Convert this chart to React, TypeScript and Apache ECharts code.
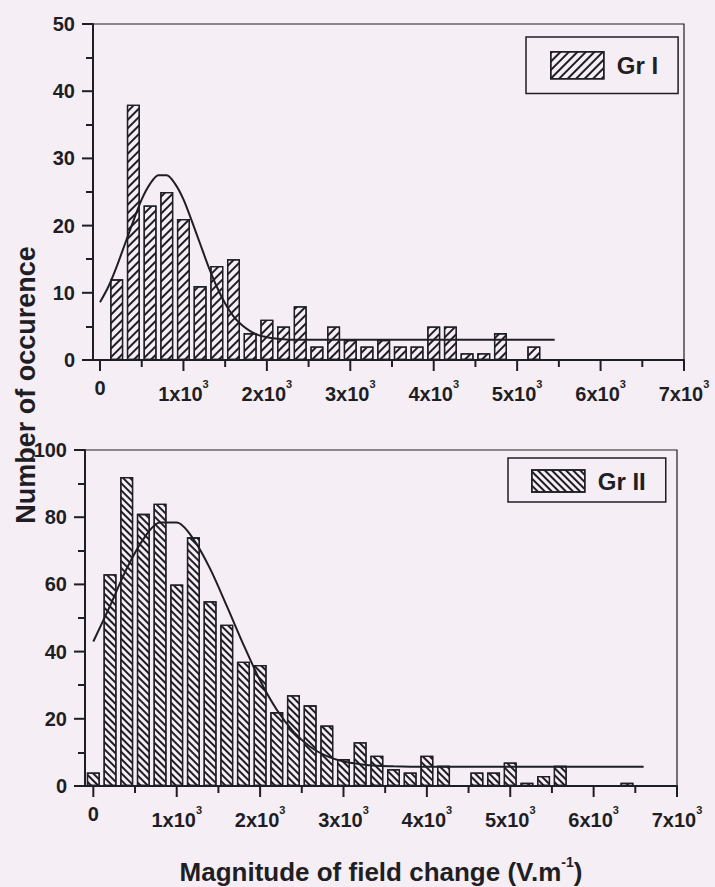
import React, { useEffect, useRef } from 'react';
import * as echarts from 'echarts';

const BG = '#f6eef5';
const INK = '#1f1e24';
const FONT = "'Liberation Sans', Arial, sans-serif";

// Group I histogram (bin centres in V/m, counts)
const binsI = [200, 400, 600, 800, 1000, 1200, 1400, 1600, 1800, 2000, 2200, 2400, 2600, 2800, 3000, 3200, 3400, 3600, 3800, 4000, 4200, 4400, 4600, 4800, 5000, 5200];
const countsI = [12, 38, 23, 25, 21, 11, 14, 15, 4, 6, 5, 8, 2, 5, 3, 2, 3, 2, 2, 5, 5, 1, 1, 4, 0, 2];
// Group I fitted curve
const fitXI = [0, 100, 200, 300, 400, 500, 600, 700, 800, 900, 1000, 1100, 1200, 1300, 1400, 1500, 1600, 1700, 1800, 1900, 2000, 2100, 2200, 2300, 2400, 5450];
const fitYI = [8.6, 10.9, 13.9, 17.3, 20.7, 23.9, 26.2, 27.5, 27.5, 26.2, 23.9, 20.7, 17.3, 13.9, 10.9, 8.4, 6.5, 5.2, 4.3, 3.7, 3.4, 3.2, 3.1, 3.0, 3.0, 3.0];

// Group II histogram
const binsII = [0, 200, 400, 600, 800, 1000, 1200, 1400, 1600, 1800, 2000, 2200, 2400, 2600, 2800, 3000, 3200, 3400, 3600, 3800, 4000, 4200, 4400, 4600, 4800, 5000, 5200, 5400, 5600, 5800, 6000, 6200, 6400];
const countsII = [4, 63, 92, 81, 84, 60, 74, 55, 48, 37, 36, 22, 27, 24, 18, 8, 13, 9, 5, 4, 9, 6, 0, 4, 4, 7, 1, 3, 6, 0, 0, 0, 1];
// Group II fitted curve
const fitXII = [0, 200, 400, 600, 800, 1000, 1200, 1400, 1600, 1800, 2000, 2200, 2400, 2600, 2800, 3000, 3200, 3400, 3600, 3800, 4000, 6600];
const fitYII = [43, 53.6, 64.7, 73.5, 78.4, 78.4, 73.5, 64.7, 53.6, 42.1, 31.4, 22.7, 16.2, 11.7, 8.9, 7.3, 6.5, 6.0, 5.85, 5.75, 5.7, 5.7];

const xMajorTicks = [0, 1000, 2000, 3000, 4000, 5000, 6000, 7000];
const xMinorTicks = [500, 1500, 2500, 3500, 4500, 5500, 6500];
const yMajorTicksI = [0, 10, 20, 30, 40, 50];
const yMajorTicksII = [0, 20, 40, 60, 80, 100];

const legendI = 'Gr I';
const legendII = 'Gr II';
const yTitle = 'Number of occurence';
const xTitle = 'Magnitude of field change (V.m';

const MAJOR_LEN = 11;
const MINOR_LEN = 7;
const X_MIN_I = -84;
const X_MIN_II = -100;

function pairs(xs: number[], ys: number[], skipZero: boolean) {
  const out: number[][] = [];
  xs.forEach((x, i) => {
    if (!skipZero || ys[i] > 0) out.push([x, ys[i]]);
  });
  return out;
}

function xLabel(v: number) {
  if (v === 0) return '{z|0}';
  return `{m|${v / 1000}x10}{s|3}`;
}

const xRich = {
  z: { fontSize: 20, fontWeight: 'bold', fontFamily: FONT, color: INK, lineHeight: 22, verticalAlign: 'top' },
  m: { fontSize: 20, fontWeight: 'bold', fontFamily: FONT, color: INK, lineHeight: 26, verticalAlign: 'bottom' },
  s: { fontSize: 11, fontWeight: 'bold', fontFamily: FONT, color: INK, lineHeight: 12, verticalAlign: 'top' },
};

function mainXAxis(gridIndex: number, min: number) {
  return {
    type: 'value',
    gridIndex,
    min,
    max: 7000,
    position: 'bottom',
    axisLine: { show: true, onZero: false, lineStyle: { color: INK, width: 2 } },
    axisTick: { show: false },
    axisLabel: { show: true, customValues: xMajorTicks, formatter: xLabel, margin: 18, rich: xRich, color: INK },
    splitLine: { show: false },
  };
}

function yAxis(gridIndex: number, max: number, interval: number) {
  return {
    type: 'value',
    gridIndex,
    min: 0,
    max,
    interval,
    position: 'left',
    axisLine: { show: true, onZero: false, lineStyle: { color: INK, width: 2 } },
    axisTick: { show: false },
    minorTick: { show: true, splitNumber: 2, length: MINOR_LEN, lineStyle: { color: INK, width: 2 } },
    axisLabel: { margin: 18, fontSize: 20, fontWeight: 'bold', fontFamily: FONT, color: INK },
    splitLine: { show: false },
    minorSplitLine: { show: false },
  };
}

function legend(name: string, left: number, top: number, h: number, pad: number[]) {
  return {
    data: [name],
    left,
    top,
    orient: 'horizontal',
    icon: 'rect',
    itemWidth: 53,
    itemHeight: h,
    padding: pad,
    borderColor: INK,
    borderWidth: 1.5,
    backgroundColor: 'transparent',
    selectedMode: false,
    itemStyle: { borderColor: INK, borderWidth: 1.5 },
    textStyle: { fontSize: 24, fontWeight: 'bold', fontFamily: FONT, color: INK, padding: [0, 0, 0, 8] },
  };
}

const titleGraphics = [
  {
    type: 'text',
    x: 26,
    y: 385,
    rotation: Math.PI / 2,
    style: { text: yTitle, font: `bold 27px ${FONT}`, fill: INK, align: 'center', verticalAlign: 'middle' },
  },
  {
    type: 'text',
    x: 381,
    y: 870,
    style: {
      text: `{m|${xTitle}}{s|-1}{m|)}`,
      align: 'center',
      verticalAlign: 'middle',
      rich: {
        m: { fontSize: 26, fontWeight: 'bold', fontFamily: FONT, fill: INK, lineHeight: 30, verticalAlign: 'bottom' },
        s: { fontSize: 14, fontWeight: 'bold', fontFamily: FONT, fill: INK, lineHeight: 15, verticalAlign: 'top' },
      },
    },
  },
];

function tickLine(x1: number, y1: number, x2: number, y2: number) {
  return { type: 'line', silent: true, z: 100, shape: { x1, y1, x2, y2 }, style: { stroke: INK, lineWidth: 2 } };
}

function tickGraphics(chart: any, gridIndex: number, xMin: number, yMajors: number[]) {
  const out: any[] = [];
  xMajorTicks.forEach((v) => {
    const p = chart.convertToPixel({ gridIndex }, [v, 0]);
    out.push(tickLine(p[0], p[1], p[0], p[1] + MAJOR_LEN));
  });
  xMinorTicks.forEach((v) => {
    const p = chart.convertToPixel({ gridIndex }, [v, 0]);
    out.push(tickLine(p[0], p[1], p[0], p[1] + MINOR_LEN));
  });
  yMajors.forEach((v) => {
    const p = chart.convertToPixel({ gridIndex }, [xMin, v]);
    out.push(tickLine(p[0] - MAJOR_LEN, p[1], p[0], p[1]));
  });
  return out;
}

export default function App() {
  const ref = useRef<HTMLDivElement>(null);
  useEffect(() => {
    if (!ref.current) return;
    const chart = echarts.init(ref.current, undefined, { renderer: 'svg' });
    const option = {
      animation: false,
      backgroundColor: BG,
      grid: [
        { left: 93, top: 24, width: 591, height: 336, show: true, borderColor: INK, borderWidth: 1.2, backgroundColor: 'transparent' },
        { left: 85, top: 450, width: 592, height: 336, show: true, borderColor: INK, borderWidth: 1.2, backgroundColor: 'transparent' },
      ],
      xAxis: [mainXAxis(0, X_MIN_I), mainXAxis(1, X_MIN_II)],
      yAxis: [yAxis(0, 50, 10), yAxis(1, 100, 20)],
      legend: [
        legend(legendI, 526, 37, 27, [14, 20, 14, 24]),
        legend(legendII, 508, 458, 22, [11, 20, 9, 23]),
      ],
      series: [
        {
          name: legendI,
          type: 'bar',
          xAxisIndex: 0,
          yAxisIndex: 0,
          barWidth: 13,
          data: pairs(binsI, countsI, true),
          itemStyle: {
            color: BG,
            borderColor: INK,
            borderWidth: 1.3,
            decal: { symbol: 'rect', symbolSize: 1, color: INK, dashArrayX: [1, 0], dashArrayY: [1.2, 3.6], rotation: -Math.PI / 4 },
          },
        },
        {
          name: 'fitI',
          type: 'line',
          xAxisIndex: 0,
          yAxisIndex: 0,
          data: pairs(fitXI, fitYI, false),
          showSymbol: false,
          smooth: 0.3,
          lineStyle: { color: INK, width: 2 },
          z: 5,
        },
        {
          name: legendII,
          type: 'bar',
          xAxisIndex: 1,
          yAxisIndex: 1,
          barWidth: 13,
          data: pairs(binsII, countsII, true),
          itemStyle: {
            color: BG,
            borderColor: INK,
            borderWidth: 1.3,
            decal: { symbol: 'rect', symbolSize: 1, color: INK, dashArrayX: [1, 0], dashArrayY: [1.1, 2.5], rotation: Math.PI / 4 },
          },
        },
        {
          name: 'fitII',
          type: 'line',
          xAxisIndex: 1,
          yAxisIndex: 1,
          data: pairs(fitXII, fitYII, false),
          showSymbol: false,
          smooth: 0.3,
          lineStyle: { color: INK, width: 2 },
          z: 5,
        },
      ],
      graphic: titleGraphics,
    };
    chart.setOption(option as any);
    const ticks = [
      ...tickGraphics(chart, 0, X_MIN_I, yMajorTicksI),
      ...tickGraphics(chart, 1, X_MIN_II, yMajorTicksII),
    ];
    chart.setOption({ graphic: [...titleGraphics, ...ticks] } as any);
    return () => chart.dispose();
  }, []);
  return <div ref={ref} style={{ position: 'absolute', left: 0, top: 0, width: 715, height: 887 }} />;
}
